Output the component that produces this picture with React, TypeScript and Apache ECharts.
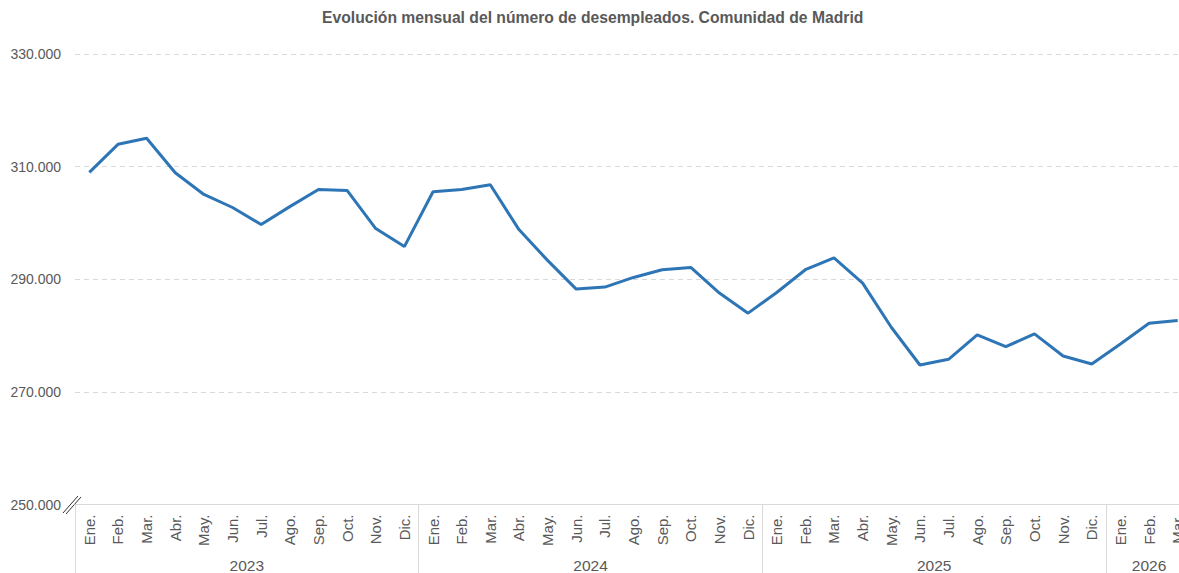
import React, { useEffect, useRef } from "react";
import * as echarts from "echarts";

const TITLE = "Evolución mensual del número de desempleados. Comunidad de Madrid";
const monthNames = ["Ene.", "Feb.", "Mar.", "Abr.", "May.", "Jun.", "Jul.", "Ago.", "Sep.", "Oct.", "Nov.", "Dic."];
const years = ["2023", "2024", "2025", "2026"];
const monthsPerYear = [12, 12, 12, 3];

const values2023 = [308980, 313960, 315030, 308900, 305060, 302740, 299710, 302900, 305950, 305770, 299000, 295800];
const values2024 = [305540, 305950, 306780, 298820, 293350, 288250, 288610, 290320, 291690, 292100, 287540, 283980];
const values2025 = [287650, 291690, 293780, 289320, 281480, 274770, 275780, 280110, 278030, 280290, 276370, 274940];
const values2026 = [278510, 282200, 282660];

const yTicks = [250000, 270000, 290000, 310000, 330000];
const yMin = 250000;
const yMax = 330000;

const FONT = "'Liberation Sans', Arial, Helvetica, sans-serif";

export default function App() {
  const ref = useRef<HTMLDivElement>(null);

  useEffect(() => {
    if (!ref.current) return;
    const chart = echarts.init(ref.current, undefined, { renderer: "svg" });

    const categories: string[] = [];
    monthsPerYear.forEach((n) => {
      for (let i = 0; i < n; i++) categories.push(monthNames[i]);
    });
    const values = [...values2023, ...values2024, ...values2025, ...values2026];

    // half-band axis for year labels and year separators
    const total = categories.length;
    const halfData: string[] = new Array(total * 2 + 1).fill("");
    const labelIdx: number[] = [];
    const boundaryIdx: number[] = [];
    let start = 0;
    years.forEach((y, k) => {
      boundaryIdx.push(start * 2);
      const c = start * 2 + monthsPerYear[k];
      halfData[c] = y;
      labelIdx.push(c);
      start += monthsPerYear[k];
    });

    const fmt = (v: number) => v.toLocaleString("de-DE");

    chart.setOption({
      animation: false,
      title: {
        text: TITLE,
        left: 322,
        top: 9,
        padding: 0,
        textStyle: { fontFamily: FONT, fontSize: 15.7, fontWeight: "bold", color: "#595959" },
      },
      grid: { left: 75, right: 8, top: 54, bottom: 68.5, outerBoundsMode: "none", containLabel: false },
      xAxis: [
        {
          type: "category",
          data: categories,
          boundaryGap: true,
          axisLine: { show: true, lineStyle: { color: "#d9d9d9", width: 1 } },
          axisTick: { show: false },
          splitLine: { show: false },
          axisLabel: {
            interval: 0,
            rotate: 90,
            margin: 10,
            fontFamily: FONT,
            fontSize: 15,
            color: "#595959",
          },
        },
        {
          type: "category",
          data: halfData,
          boundaryGap: false,
          position: "bottom",
          axisLine: { show: false },
          axisTick: {
            show: true,
            length: 70,
            interval: (i: number) => boundaryIdx.includes(i),
            lineStyle: { color: "#d9d9d9", width: 1 },
          },
          splitLine: { show: false },
          axisLabel: {
            interval: (i: number) => labelIdx.includes(i),
            margin: 53,
            fontFamily: FONT,
            fontSize: 15.5,
            color: "#595959",
          },
        },
      ],
      yAxis: {
        type: "value",
        min: yMin,
        max: yMax,
        axisLine: { show: false },
        axisTick: { show: false, customValues: yTicks },
        splitLine: { show: true, lineStyle: { color: "#d9d9d9", type: [5, 4], width: 1 } },
        axisLabel: {
          customValues: yTicks,
          formatter: (v: number) => fmt(v),
          margin: 14,
          fontFamily: FONT,
          fontSize: 14,
          color: "#595959",
        },
      },
      graphic: [
        { type: "line", shape: { x1: 63, y1: 513, x2: 78, y2: 496 }, style: { stroke: "#333", lineWidth: 1 } },
        { type: "line", shape: { x1: 66, y1: 514, x2: 81, y2: 497 }, style: { stroke: "#333", lineWidth: 1 } },
      ],
      series: [
        {
          type: "line",
          xAxisIndex: 0,
          yAxisIndex: 0,
          data: values,
          showSymbol: false,
          symbol: "none",
          lineStyle: { color: "#2e75b6", width: 3 },
          itemStyle: { color: "#2e75b6" },
        },
      ],
    });

    return () => chart.dispose();
  }, []);

  return (
    <div style={{ position: "absolute", left: 0, top: 0, width: 1179, height: 573, overflow: "hidden" }}>
      <div ref={ref} style={{ width: 1200, height: 573 }} />
    </div>
  );
}
